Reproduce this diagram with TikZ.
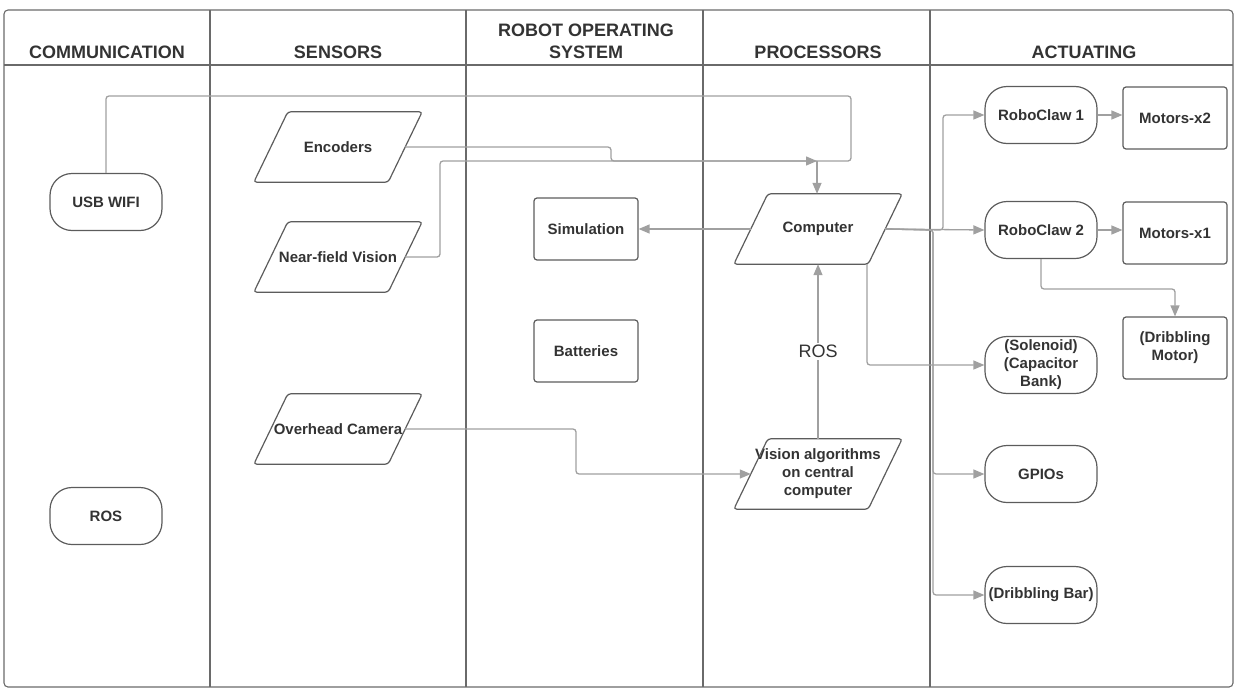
\documentclass[tikz,border=0pt]{standalone}
\usepackage{fontspec}
\setmainfont{Liberation Sans}
\usetikzlibrary{arrows.meta,calc}
\definecolor{framec}{HTML}{6A6A6A}
\definecolor{boxc}{HTML}{5C5C5C}
\definecolor{linec}{HTML}{A0A0A0}
\definecolor{txt}{HTML}{333333}
\newcommand\pgram[1]{\draw[boxc, line width=1.2pt, rounded corners=3pt]
  ([xshift=17pt]#1.north west) -- ([xshift=17pt]#1.north east) --
  ([xshift=-17pt]#1.south east) -- ([xshift=-17pt]#1.south west) -- cycle;}
\begin{document}
\begin{tikzpicture}[x=1pt,y=-1pt,
  lane/.style={draw=framec, line width=1.1pt},
  hdr/.style={font=\bfseries\fontsize{18}{22}\selectfont, text=txt, align=center},
  lbl/.style={font=\bfseries\fontsize{15}{18}\selectfont, text=txt, align=center},
  stadium/.style={lbl, draw=boxc, line width=1.2pt, rounded corners=22pt, minimum width=112pt, minimum height=57pt, inner sep=1pt},
  sbox/.style={lbl, draw=boxc, line width=1.2pt, rounded corners=3pt, minimum width=104pt, minimum height=62pt},
  pg/.style={lbl, minimum width=134pt, minimum height=70pt, inner sep=0pt},
  conn/.style={draw=linec, line width=1.3pt, rounded corners=3pt},
  arr/.style={conn, -{Triangle[length=11pt,width=9pt]}}]
\useasboundingbox (0,0) rectangle (1242,696);
% frame and lanes
\draw[lane, rounded corners=4pt] (4,10) rectangle (1233,687);
\draw[lane] (4,65) -- (1233,65);
\foreach \xx in {210,466,703,930} \draw[lane] (\xx,10) -- (\xx,687);
% headers
\node[hdr] (h1) at (107,52) {COMMUNICATION};
\node[hdr] (h2) at (338,52) {SENSORS};
\node[hdr] (h3) at (586,41) {ROBOT OPERATING\\SYSTEM};
\node[hdr] (h4) at (818,52) {PROCESSORS};
\node[hdr] (h5) at (1084,52) {ACTUATING};
% communication
\node[stadium] (usb) at (106,202) {USB WIFI};
\node[stadium] (ros) at (106,516) {ROS};
% sensors
\node[pg] (enc) at (338,147) {Encoders}; \pgram{enc}
\node[pg] (nf) at (338,257) {Near-field Vision}; \pgram{nf}
\node[pg] (cam) at (338,429) {Overhead Camera}; \pgram{cam}
% ROS
\node[sbox] (sim) at (586,229) {Simulation};
\node[sbox] (bat) at (586,351) {Batteries};
% processors
\node[pg] (comp) at (818,229) {Computer}; \pgram{comp}
\node[pg] (vis) at (818,474) {Vision algorithms\\on central\\computer}; \pgram{vis}
% actuating
\node[stadium] (rc1) at (1041,115) {RoboClaw 1};
\node[stadium] (rc2) at (1041,230) {RoboClaw 2};
\node[stadium] (sol) at (1041,365) {(Solenoid)\\(Capacitor\\Bank)};
\node[stadium] (gpio) at (1041,474) {GPIOs};
\node[stadium] (db) at (1041,595) {(Dribbling Bar)};
\node[sbox] (m2) at (1175,118) {Motors-x2};
\node[sbox] (m1) at (1175,233) {Motors-x1};
\node[sbox] (dm) at (1175,348) {(Dribbling\\Motor)};
% connectors
\coordinate (J) at (817,161);
\draw[conn] (usb.north) -- (106,96) -- (851,96) -- (851,161) -- (J);
\draw[conn] (enc.east) -- (611,147) -- (611,161) -- (J);
\draw[arr] (nf.east) -- (440,257) -- (440,161) -- (J);
\draw[arr, rounded corners=0pt] (J) -- (comp.north -| J);
\draw[arr] (comp.west) -- (sim.east);
\draw[arr] (vis.north) -- node[fill=white, inner sep=2pt, font=\fontsize{18}{20}\selectfont, text=txt] (roslbl) {ROS} (comp.south);
\draw[arr] (cam.east) -- (576,429) -- (576,474) -- (vis.west);
\draw[arr] (comp.east) -- (rc2.west);
\draw[arr] (comp.east) -- (943,230) -- (943,115) -- (rc1.west);
\draw[arr] (comp.east) -- (933,230) -- (933,474) -- (gpio.west);
\draw[arr] (comp.east) -- (933,230) -- (933,595) -- (db.west);
\draw[arr] (867,264) -- (867,365) -- (sol.west);
\draw[arr] (rc1.east) -- (m2.west |- rc1.east);
\draw[arr] (rc2.east) -- (m1.west |- rc2.east);
\draw[arr] (rc2.south) -- (1041,289) -- (1175,289) -- (dm.north);
\end{tikzpicture}
\end{document}
